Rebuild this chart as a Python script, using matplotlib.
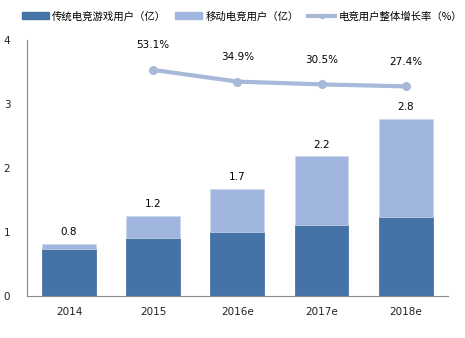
import matplotlib.pyplot as plt
from matplotlib.lines import Line2D
from matplotlib.patches import Patch

plt.rcParams['font.family'] = ['Noto Sans CJK SC', 'DejaVu Sans']

# data
years = ['2014', '2015', '2016e', '2017e', '2018e']
traditional = [0.73, 0.91, 1.00, 1.11, 1.23]
mobile = [0.08, 0.34, 0.67, 1.07, 1.54]
total_labels = ['0.8', '1.2', '1.7', '2.2', '2.8']
growth_years = ['2015', '2016e', '2017e', '2018e']
growth = [53.1, 34.9, 30.5, 27.4]

dark = '#4573A7'
light = '#A0B6DE'
line_col = '#A7B8D8'

fig = plt.figure(figsize=(4.65, 3.38), dpi=100)
ax = fig.add_axes([0.058, 0.124, 0.905, 0.758])

x = list(range(len(years)))
ax.bar(x, traditional, width=0.64, color=dark, edgecolor='#3F6A9C', linewidth=0.5)
ax.bar(x, mobile, width=0.64, bottom=traditional, color=light, edgecolor='#C9D6EC', linewidth=0.5)

for i in x:
    top = traditional[i] + mobile[i]
    ax.annotate(total_labels[i], (i, top), xytext=(0, 5), textcoords='offset points',
                ha='center', va='bottom', fontsize=7.5, family=['DejaVu Sans'])

ax.set_xlim(-0.5, len(years) - 0.5)
ax.set_ylim(0, 4)
ax.set_yticks([0, 1, 2, 3, 4])
ax.set_xticks(x)
ax.set_xticklabels(years)
ax.tick_params(axis='both', length=0, labelsize=7.5, colors='#222222')
ax.tick_params(axis='x', pad=8)
ax.tick_params(axis='y', pad=12)
for lbl in ax.get_xticklabels() + ax.get_yticklabels():
    lbl.set_family(['DejaVu Sans'])
for s in ['top', 'right']:
    ax.spines[s].set_visible(False)
ax.spines['left'].set_color('#888888')
ax.spines['bottom'].set_color('#888888')

ax2 = ax.twinx()
gx = [years.index(y) for y in growth_years]
ax2.plot(gx, growth, color=line_col, linewidth=3, marker='o', markersize=5.5)
for xi, v in zip(gx, growth):
    ax2.annotate(f'{v}%', (xi, v), xytext=(0, 14), textcoords='offset points',
                 ha='center', va='bottom', fontsize=7.5, family=['DejaVu Sans'])
ax2.set_ylim(-300, 100)
ax2.axis('off')

handles = [Patch(color=dark), Patch(color=light),
           Line2D([], [], color=line_col, linewidth=3, marker='o', markersize=3)]
labels = ['传统电竞游戏用户（亿）', '移动电竞用户（亿）', '电竞用户整体增长率（%）']
fig.legend(handles, labels, loc='center', bbox_to_anchor=(0.52, 0.952), ncol=3,
           frameon=False, fontsize=7.5, handlelength=2.6, handleheight=0.7,
           columnspacing=0.9, handletextpad=0.3, borderaxespad=0, borderpad=0)

fig.savefig('out.png', dpi=100)
